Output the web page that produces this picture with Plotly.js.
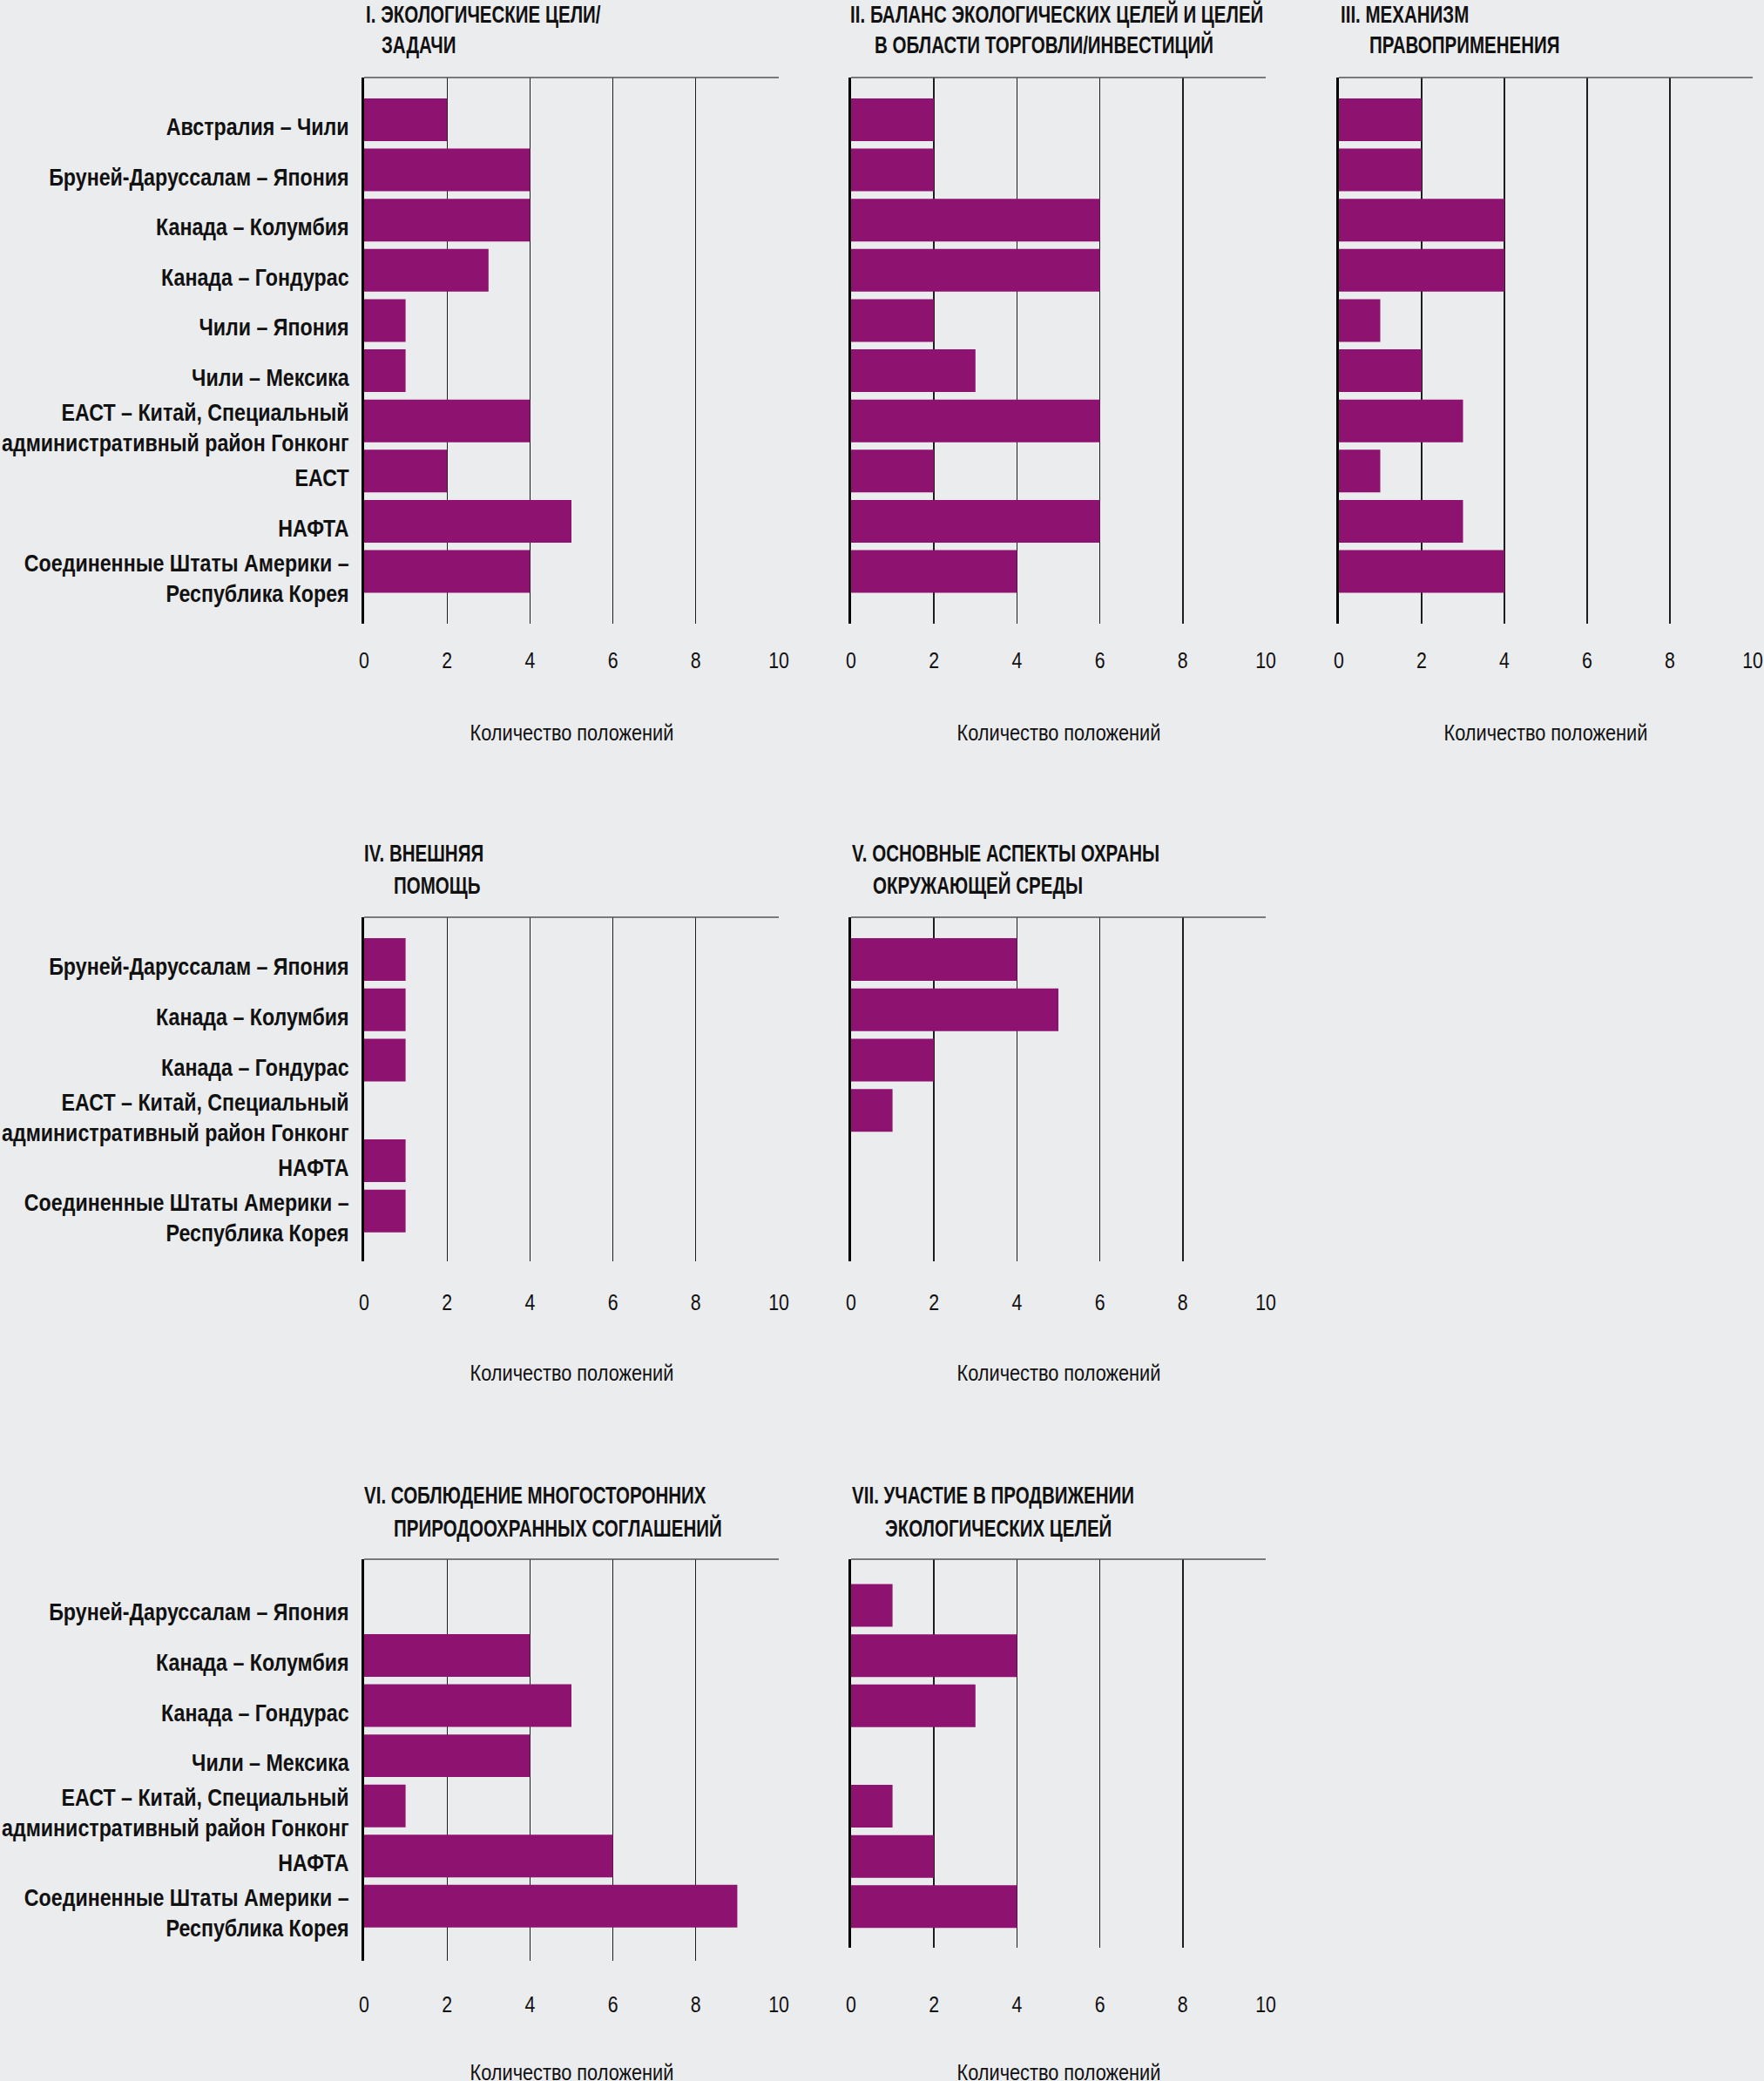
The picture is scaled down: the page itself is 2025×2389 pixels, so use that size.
<!DOCTYPE html>
<html>
<head>
<meta charset="utf-8">
<script src="https://cdn.plot.ly/plotly-3.0.1.min.js"></script>
<style>html,body{margin:0;padding:0;background:#EBECEE;}</style>
</head>
<body>
<div id="chart" style="width:2025px;height:2389px;"></div>
<script>
// ---------------- DATA ----------------
const catsMain = [
  'Австралия – Чили',
  'Бруней-Даруссалам – Япония',
  'Канада – Колумбия',
  'Канада – Гондурас',
  'Чили – Япония',
  'Чили – Мексика',
  'ЕАСТ – Китай, Специальный<br>административный район Гонконг',
  'ЕАСТ',
  'НАФТА',
  'Соединенные Штаты Америки –<br>Республика Корея'
];
const catsIV = [
  'Бруней-Даруссалам – Япония',
  'Канада – Колумбия',
  'Канада – Гондурас',
  'ЕАСТ – Китай, Специальный<br>административный район Гонконг',
  'НАФТА',
  'Соединенные Штаты Америки –<br>Республика Корея'
];
const catsVI = [
  'Бруней-Даруссалам – Япония',
  'Канада – Колумбия',
  'Канада – Гондурас',
  'Чили – Мексика',
  'ЕАСТ – Китай, Специальный<br>административный район Гонконг',
  'НАФТА',
  'Соединенные Штаты Америки –<br>Республика Корея'
];
const valsI   = [2, 4, 4, 3, 1, 1, 4, 2, 5, 4];
const valsII  = [2, 2, 6, 6, 2, 3, 6, 2, 6, 4];
const valsIII = [2, 2, 4, 4, 1, 2, 3, 1, 3, 4];
const valsIV  = [1, 1, 1, 0, 1, 1];
const valsV   = [4, 5, 2, 1, 0, 0];
const valsVI  = [0, 4, 5, 4, 1, 6, 9];
const valsVII = [1, 4, 3, 0, 1, 2, 4];
const titlesLine1 = [
  'I. ЭКОЛОГИЧЕСКИЕ ЦЕЛИ/',
  'II. БАЛАНС ЭКОЛОГИЧЕСКИХ ЦЕЛЕЙ И ЦЕЛЕЙ',
  'III. МЕХАНИЗМ',
  'IV. ВНЕШНЯЯ',
  'V. ОСНОВНЫЕ АСПЕКТЫ ОХРАНЫ',
  'VI. СОБЛЮДЕНИЕ МНОГОСТОРОННИХ',
  'VII. УЧАСТИЕ В ПРОДВИЖЕНИИ'
];
const titlesLine2 = [
  'ЗАДАЧИ',
  'В ОБЛАСТИ ТОРГОВЛИ/ИНВЕСТИЦИЙ',
  'ПРАВОПРИМЕНЕНИЯ',
  'ПОМОЩЬ',
  'ОКРУЖАЮЩЕЙ СРЕДЫ',
  'ПРИРОДООХРАННЫХ СОГЛАШЕНИЙ',
  'ЭКОЛОГИЧЕСКИХ ЦЕЛЕЙ'
];
const xTickVals = [0, 2, 4, 6, 8, 10];
const xAxisTitle = 'Количество положений';

// ---------------- LAYOUT HELPERS ----------------
const W = 2025, H = 2389;
const FONT = '"Liberation Sans", Arial, "DejaVu Sans", sans-serif';
const BAR = '#8E1270';
const BG = '#EBECEE';
const px = v => v / W;
const py = v => 1 - v / H;

// horizontal condensing factors (reference uses a condensed typeface)
const SCALE_TITLE = 0.76, SCALE_LABEL = 0.86, SCALE_TICK = 0.82, SCALE_AXTITLE = 0.87;

const panels = [
  {cats: catsMain, vals: valsI,   x0: 418,  x1: 894,  top: 89,   bot: 716,    range: [10.04, -0.84], labels: true,  tickY: 758,  titleY: 841,  t1: 16.5, t2: 52,  t1x: 418,  t2x: 436},
  {cats: catsMain, vals: valsII,  x0: 977,  x1: 1453, top: 89,   bot: 716,    range: [10.04, -0.84], labels: false, tickY: 758,  titleY: 841,  t1: 16.5, t2: 52,  t1x: 974,  t2x: 1002},
  {cats: catsMain, vals: valsIII, x0: 1537, x1: 2012, top: 89,   bot: 716,    range: [10.04, -0.84], labels: false, tickY: 758,  titleY: 841,  t1: 16.5, t2: 52,  t1x: 1537, t2x: 1570},
  {cats: catsIV,   vals: valsIV,  x0: 418,  x1: 894,  top: 1053, bot: 1447.5, range: [5.99, -0.84],  labels: true,  tickY: 1495, titleY: 1576, t1: 980,  t2: 1017, t1x: 416,  t2x: 450},
  {cats: catsIV,   vals: valsV,   x0: 977,  x1: 1453, top: 1053, bot: 1447.5, range: [5.99, -0.84],  labels: false, tickY: 1495, titleY: 1576, t1: 980,  t2: 1017, t1x: 976,  t2x: 1000},
  {cats: catsVI,   vals: valsVI,  x0: 418,  x1: 894,  top: 1790, bot: 2250.5, range: [7.08, -0.92],  labels: true,  tickY: 2301, titleY: 2379, t1: 1717, t2: 1754, t1x: 416,  t2x: 450},
  {cats: catsVI,   vals: valsVII, x0: 977,  x1: 1453, top: 1790, bot: 2235.5, range: [6.81, -0.92],  labels: false, tickY: 2301, titleY: 2379, t1: 1717, t2: 1754, t1x: 976,  t2x: 1014}
];

const traces = [];
const annScale = [];   // per annotation: [scale, anchor]
const layout = {
  width: W, height: H,
  margin: {l: 0, r: 0, t: 0, b: 0, pad: 0},
  paper_bgcolor: BG, plot_bgcolor: BG,
  showlegend: false,
  bargap: 0.15,
  font: {family: FONT, color: '#111'},
  annotations: [], shapes: []
};

panels.forEach((p, i) => {
  const n = i === 0 ? '' : String(i + 1);
  const xa = 'x' + n, ya = 'y' + n;
  traces.push({
    type: 'bar', orientation: 'h',
    x: p.vals, y: p.cats,
    xaxis: xa, yaxis: ya,
    marker: {color: BAR, line: {width: 0}},
    hoverinfo: 'x+y'
  });
  const standoff = Math.round((p.tickY - p.bot) - 18);
  layout['xaxis' + n] = {
    domain: [px(p.x0), px(p.x1)],
    anchor: ya,
    range: [0, 10],
    tickmode: 'array', tickvals: xTickVals, ticktext: xTickVals.map(String),
    showgrid: true, gridcolor: '#1e1e1e', gridwidth: 1.4,
    zeroline: false, showline: false, ticks: '',
    tickfont: {family: FONT, size: 26, color: '#111'},
    ticklabelstandoff: standoff,
    ticklabeloverflow: 'allow',
    fixedrange: true
  };
  layout['yaxis' + n] = {
    domain: [py(p.bot), py(p.top)],
    anchor: xa,
    type: 'category',
    categoryorder: 'array', categoryarray: p.cats,
    range: p.range,
    showgrid: false, zeroline: false,
    showline: true, linecolor: '#000', linewidth: 3,
    ticks: '',
    showticklabels: p.labels,
    tickfont: {family: FONT, size: 27, color: '#111', weight: 'bold'},
    ticklabelstandoff: 9,
    ticklabelshift: -8,
    ticklabeloverflow: 'allow',
    fixedrange: true
  };
  layout.shapes.push({
    type: 'line', xref: xa + ' domain', yref: ya + ' domain',
    x0: 0, x1: 1, y0: 1, y1: 1,
    line: {color: '#555', width: 1.6}
  });
  layout.annotations.push({
    xref: 'paper', yref: 'paper', x: px(p.t1x), y: py(p.t1),
    xanchor: 'left', yanchor: 'middle', showarrow: false,
    text: titlesLine1[i],
    font: {family: FONT, size: 27, color: '#111', weight: 'bold'}
  });
  annScale.push([SCALE_TITLE, 'left']);
  layout.annotations.push({
    xref: 'paper', yref: 'paper', x: px(p.t2x), y: py(p.t2),
    xanchor: 'left', yanchor: 'middle', showarrow: false,
    text: titlesLine2[i],
    font: {family: FONT, size: 27, color: '#111', weight: 'bold'}
  });
  annScale.push([SCALE_TITLE, 'left']);
  layout.annotations.push({
    xref: 'paper', yref: 'paper', x: px((p.x0 + p.x1) / 2), y: py(p.titleY),
    xanchor: 'center', yanchor: 'middle', showarrow: false,
    text: xAxisTitle,
    font: {family: FONT, size: 25, color: '#111'}
  });
  annScale.push([SCALE_AXTITLE, 'center']);
});

function condense(el, s, anchor) {
  const bb = el.getBBox();
  let ax;
  if (anchor === 'left') ax = bb.x;
  else if (anchor === 'right') ax = bb.x + bb.width;
  else ax = bb.x + bb.width / 2;
  const prev = el.getAttribute('transform') || '';
  el.setAttribute('transform', prev + ' translate(' + ax + ',0) scale(' + s + ',1) translate(' + (-ax) + ',0)');
}

Plotly.newPlot('chart', traces, layout, {staticPlot: true, displayModeBar: false}).then(gd => {
  gd.querySelectorAll('g.yaxislayer-above text').forEach(t => condense(t, SCALE_LABEL, 'right'));
  gd.querySelectorAll('g.xaxislayer-above text').forEach(t => condense(t, SCALE_TICK, 'center'));
  gd.querySelectorAll('g.annotation').forEach(g => {
    const idx = +g.getAttribute('data-index');
    const t = g.querySelector('text.annotation-text');
    if (t && annScale[idx]) condense(t, annScale[idx][0], annScale[idx][1]);
  });
});
</script>
</body>
</html>
